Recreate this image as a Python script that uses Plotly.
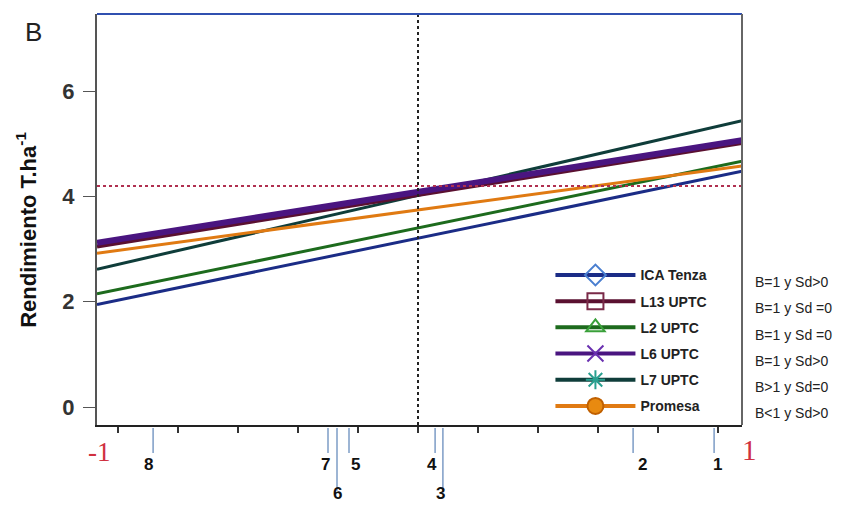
import plotly.graph_objects as go

# ---- data ----
genotypes = ["ICA Tenza", "L13 UPTC", "L2 UPTC", "L6 UPTC", "L7 UPTC", "Promesa"]
x_ends = [-1.07, 1.08]
y_left = [1.95, 3.05, 2.15, 3.12, 2.62, 2.92]
y_right = [4.48, 5.02, 4.67, 5.07, 5.44, 4.58]
stability = ["B=1 y Sd>0", "B=1 y Sd =0", "B=1 y Sd =0", "B=1 y Sd>0", "B>1 y Sd=0", "B<1 y Sd>0"]

env_labels = ["1", "2", "3", "4", "5", "6", "7", "8"]
env_x = [0.987, 0.717, 0.083, 0.057, -0.23, -0.27, -0.30, -0.883]
env_long = [False, False, True, False, False, True, False, False]
env_shift = [3, 9, -2, -3, 6, 0, -3, -5]

mean_yield = 4.2
y_ticks = [0, 2, 4, 6]
x_minor = [-1, -0.8, -0.6, -0.4, -0.2, 0, 0.2, 0.4, 0.6, 0.8, 1]

# ---- styles ----
line_col = ["#1b2c86", "#5a1030", "#1d6b1d", "#4a1580", "#0f3d3a", "#e07a12"]
line_w = [3, 4, 3, 6, 3, 3]
mk_sym = ["diamond-open", "square-open", "triangle-up-open", "x-thin-open", "asterisk-open", "circle"]
mk_col = ["#4a7fd0", "#7a2a48", "#3aa03a", "#6a30b0", "#2aa090", "#e88a10"]
draw_order = [0, 2, 4, 5, 1, 3]

fig = go.Figure()

for i in draw_order:
    fig.add_trace(go.Scatter(
        x=x_ends, y=[y_left[i], y_right[i]], mode="lines",
        line=dict(color=line_col[i], width=line_w[i]),
        showlegend=False, hoverinfo="skip"))

for i, g in enumerate(genotypes):
    fig.add_trace(go.Scatter(
        x=[None], y=[None], mode="lines+markers", name="<b>" + g + "</b>",
        legendgroup=g,
        line=dict(color=line_col[i], width=4),
        marker=dict(symbol=mk_sym[i], size=16, color=mk_col[i],
                    line=dict(width=2, color=mk_col[i] if i != 5 else "#c06000"))))

# reference lines
fig.add_trace(go.Scatter(x=x_ends, y=[mean_yield, mean_yield], mode="lines",
                         line=dict(color="#b03050", width=2, dash="dot"),
                         showlegend=False, hoverinfo="skip"))
fig.add_shape(type="line", xref="x", yref="paper", x0=0, x1=0, y0=0, y1=1,
              line=dict(color="#222", width=2, dash="dot"))

# borders
fig.add_shape(type="line", xref="paper", yref="paper", x0=0, x1=1, y0=1, y1=1,
              line=dict(color="#3050b0", width=2))
fig.add_shape(type="line", xref="paper", yref="paper", x0=1, x1=1, y0=0, y1=1,
              line=dict(color="#666", width=2))

# environment markers below axis
for lab, xv, lg, sh in zip(env_labels, env_x, env_long, env_shift):
    fig.add_shape(type="line", xref="x", yref="paper", x0=xv, x1=xv,
                  y0=-0.007, y1=-0.16 if lg else -0.068,
                  line=dict(color="#7d9cc6", width=1.5))
    fig.add_annotation(x=xv, y=-0.124 if not lg else -0.195, xref="x", yref="paper",
                       text="<b>" + lab + "</b>", showarrow=False, xshift=sh,
                       font=dict(size=17, color="#111", family="Liberation Sans"))

# stability annotations
for k, t in enumerate(stability):
    fig.add_annotation(x=1.0, y=0.348 - k * 0.064, xref="paper", yref="paper",
                       xanchor="left", yanchor="middle", xshift=11, text=t, showarrow=False,
                       font=dict(size=14, color="#222", family="Liberation Sans"))

# -1 and 1 red labels
fig.add_annotation(x=-1.063, y=-0.066, xref="x", yref="paper", text="-1", showarrow=False,
                   xanchor="center", yanchor="middle",
                   font=dict(size=27, color="#d03040", family="Liberation Serif"))
fig.add_annotation(x=1.012, y=-0.061, xref="paper", yref="paper", text="1", showarrow=False,
                   xanchor="center", yanchor="middle",
                   font=dict(size=29, color="#d03040", family="Liberation Serif"))

# B label and y title
fig.add_annotation(x=-0.098, y=0.956, xref="paper", yref="paper", text="B", showarrow=False,
                   xanchor="center", yanchor="middle",
                   font=dict(size=26, color="#222", family="Liberation Sans"))
fig.add_annotation(x=-0.11, y=0.475, xref="paper", yref="paper",
                   text="<b>Rendimiento T.ha<sup>-1</sup></b>", textangle=-90, showarrow=False,
                   xanchor="center", yanchor="middle",
                   font=dict(size=22, color="#111", family="Liberation Sans"))

fig.update_layout(
    width=843, height=509,
    margin=dict(l=89, r=109, t=6, b=92),
    paper_bgcolor="white", plot_bgcolor="white",
    xaxis=dict(range=x_ends, showgrid=False, zeroline=False, showline=True,
               linecolor="#222", linewidth=2, ticks="outside", ticklen=6,
               tickwidth=2, tickcolor="#333", tickvals=x_minor, showticklabels=False),
    yaxis=dict(range=[-0.342, 7.47], showgrid=False, zeroline=False, showline=True,
               linecolor="#555", linewidth=2, ticks="outside", ticklen=12,
               tickcolor="#555", tickvals=y_ticks, ticklabelstandoff=4,
               ticktext=["<b>%d</b>" % v for v in y_ticks],
               tickfont=dict(size=22, color="#333", family="Liberation Sans")),
    legend=dict(x=0.703, y=0.403, xanchor="left", yanchor="top",
                bgcolor="rgba(255,255,255,0)", itemwidth=80, tracegroupgap=5,
                font=dict(size=14, color="#222", family="Liberation Sans")),
)

fig.write_html("out.html")
